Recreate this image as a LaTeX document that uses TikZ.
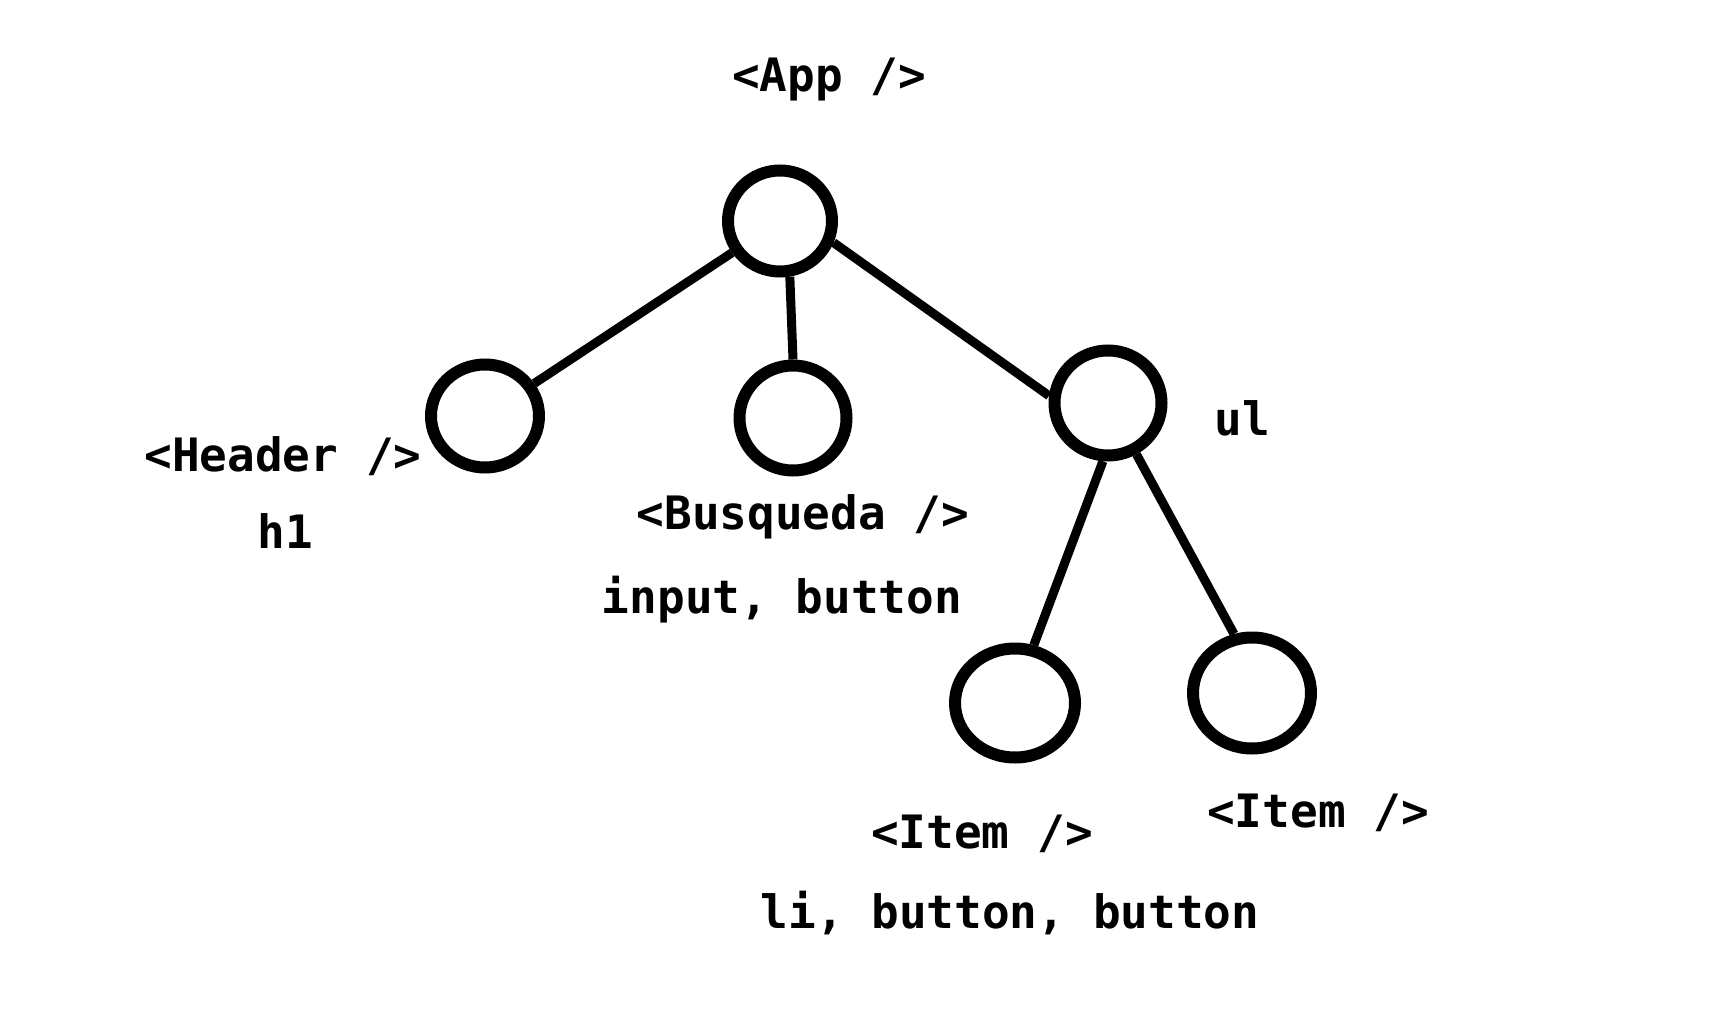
\documentclass[tikz,border=0pt]{standalone}
\usepackage{fontspec}
\setmonofont{DejaVu Sans Mono}
\usetikzlibrary{shapes.geometric}
\tikzset{
  vert/.style={ellipse, draw=black, line width=12pt, inner sep=0pt, fill=white},
  edge/.style={draw=black, line width=9pt},
  lbl/.style={anchor=base, inner sep=0pt, font=\ttfamily\bfseries\fontsize{46}{55}\selectfont}
}
\begin{document}
\begin{tikzpicture}[x=1pt,y=-1pt]
\useasboundingbox[fill=white] (0,0) rectangle (1730,1024);
% vertices
\node[vert, minimum width=104pt, minimum height=101pt] (app) at (780,221) {};
\node[vert, minimum width=108pt, minimum height=103pt] (header) at (485,416) {};
\node[vert, minimum width=107pt, minimum height=105pt] (busq) at (793,418) {};
\node[vert, minimum width=107pt, minimum height=105pt] (ul) at (1108,403) {};
\node[vert, minimum width=120pt, minimum height=109pt] (item1) at (1015,703) {};
\node[vert, minimum width=118pt, minimum height=111pt] (item2) at (1252,693) {};
% edges
\draw[edge] (app) -- (header);
\draw[edge] (app.280) -- (busq.90);
\draw[edge] (app.338) -- (ul.173);
\draw[edge] (ul.265) -- (item1.72);
\draw[edge] (ul.299) -- (item2.107);
% labels
\node[lbl] (tapp) at (829,92) {<App />};
\node[lbl] (theader) at (283,471) {<Header />};
\node[lbl] (th1) at (285,548) {h1};
\node[lbl] (tbusq) at (803,529) {<Busqueda />};
\node[lbl] (tinput) at (782,613) {input, button};
\node[lbl] (tul) at (1242,435) {ul};
\node[lbl] (titem1) at (982,848) {<Item />};
\node[lbl] (tli) at (1010,928) {li, button, button};
\node[lbl] (titem2) at (1318,827) {<Item />};
\end{tikzpicture}
\end{document}
